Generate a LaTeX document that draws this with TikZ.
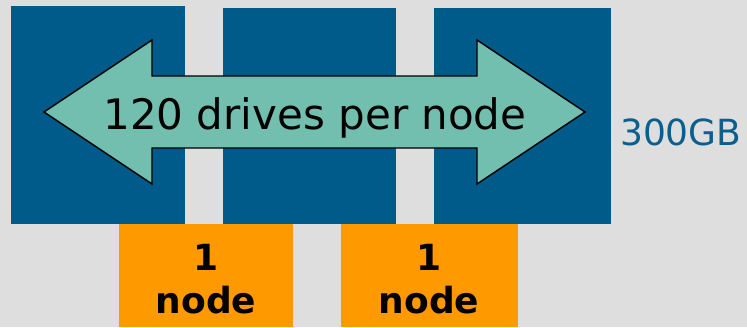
\documentclass[tikz,border=0pt]{standalone}
\usepackage{fontspec}
\setmainfont{DejaVu Sans}
\definecolor{bgray}{HTML}{DEDEDE}
\definecolor{diskblue}{HTML}{005B8A}
\definecolor{nodeorange}{HTML}{FF9900}
\definecolor{arrowgreen}{HTML}{72BFB0}
\definecolor{labelblue}{HTML}{0B5F8E}
\begin{document}
\begin{tikzpicture}[x=1pt,y=-1pt,
  disk/.style={fill=diskblue},
  nodebox/.style={fill=nodeorange},
  bigtext/.style={font=\fontsize{42}{50}\selectfont, inner sep=0pt},
  sizetext/.style={font=\fontsize{36}{42}\selectfont, text=labelblue, inner sep=0pt},
  counttext/.style={font=\fontsize{36}{42}\selectfont\bfseries, inner sep=0pt}]
  % background and extent
  \fill[bgray] (0,0) rectangle (747,327);
  \useasboundingbox (0,0) rectangle (747,327);
  % drive shelves
  \fill[disk] (11,6) rectangle (185,224);
  \fill[disk] (223,8) rectangle (396,224);
  \fill[disk] (434,8) rectangle (611,224);
  % node boxes
  \fill[nodebox] (119,224) rectangle (293,327);
  \fill[nodebox] (341,224) rectangle (518,327);
  % double-headed arrow spanning the shelves
  \draw[fill=arrowgreen, line width=1.4pt, line join=miter]
    (44,112) -- (152,40) -- (152,76) -- (477,76) -- (477,40) -- (585,112)
    -- (477,184) -- (477,148) -- (152,148) -- (152,184) -- cycle;
  \node[bigtext, anchor=base] (drives) at (315,129) {120 drives per node};
  \node[sizetext, anchor=base west] (cap) at (620,145) {300GB};
  \node[counttext, anchor=base] (n1a) at (206,270) {1};
  \node[counttext, anchor=base] (n1b) at (206,313) {node};
  \node[counttext, anchor=base] (n2a) at (429,270) {1};
  \node[counttext, anchor=base] (n2b) at (429,313) {node};
\end{tikzpicture}
\end{document}
